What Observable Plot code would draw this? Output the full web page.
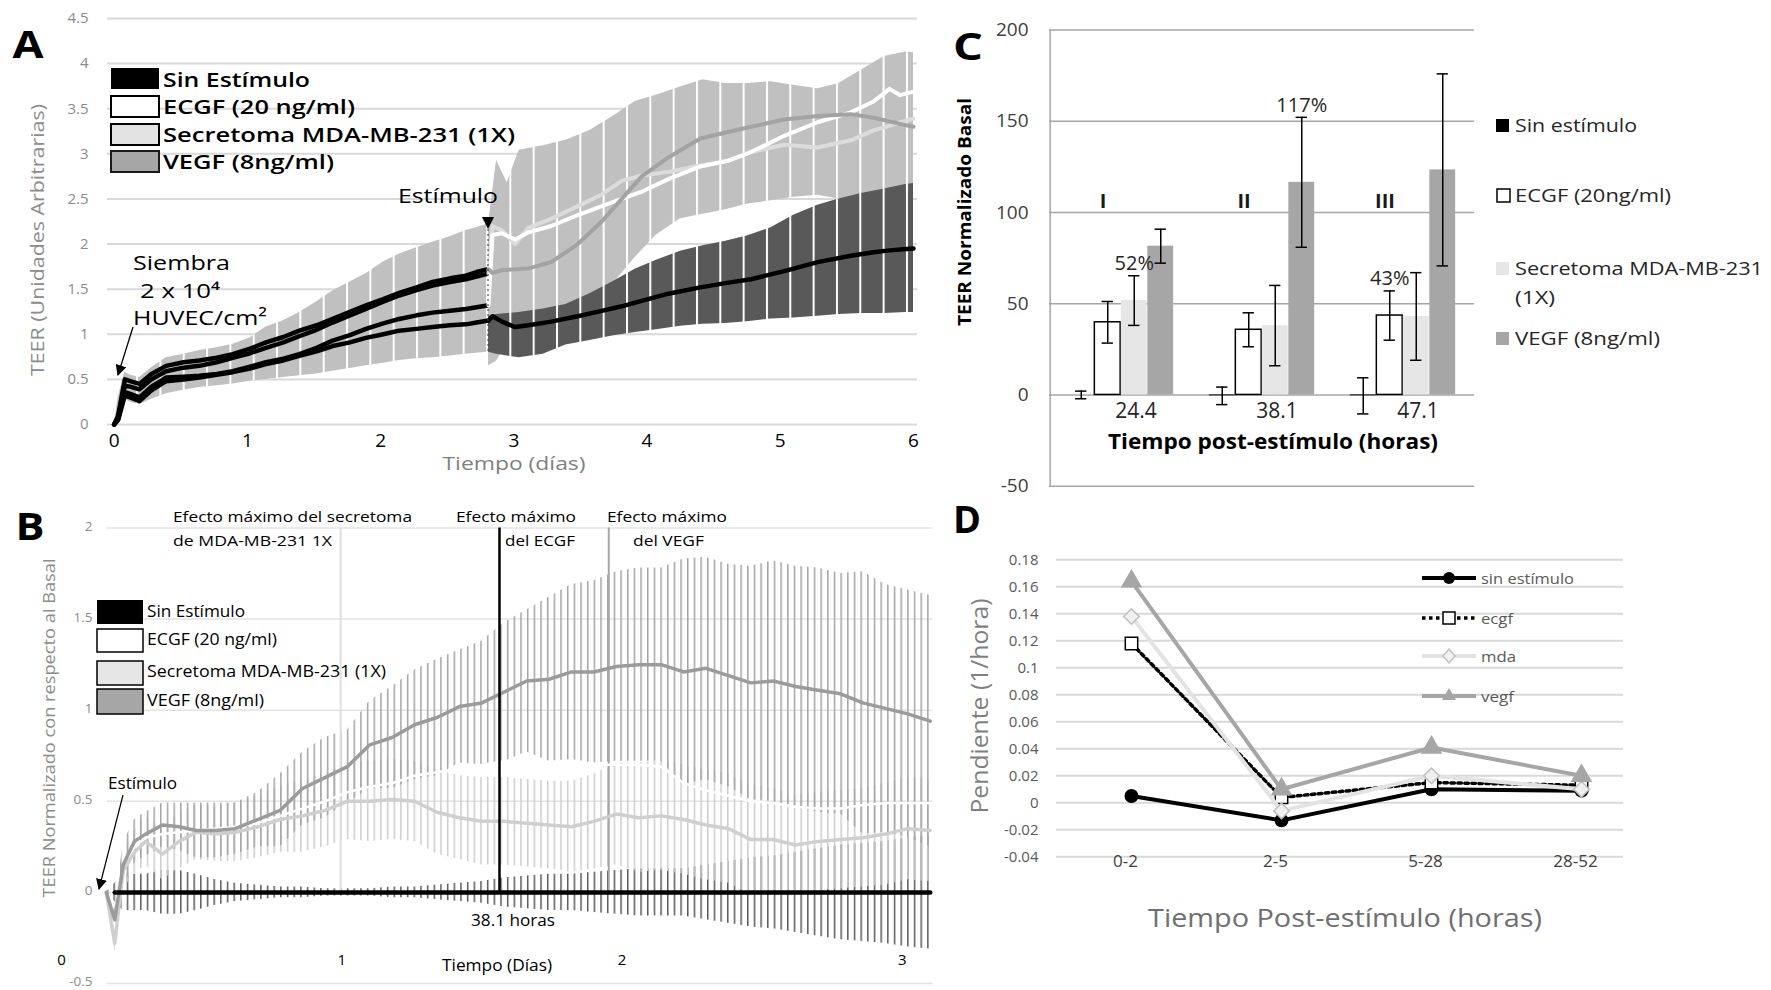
<!DOCTYPE html>
<html><head><meta charset="utf-8">
<script src="https://cdn.jsdelivr.net/npm/d3@7"></script>
<script src="https://cdn.jsdelivr.net/npm/@observablehq/plot@0.6"></script>
<style>
html,body{margin:0;padding:0;background:#fff;}
#page{position:relative;width:1771px;height:990px;overflow:hidden;background:#fff;font-family:'Open Sans',sans-serif;}
.panel{position:absolute;}
.panel svg{display:block;}
#overlay{position:absolute;left:0;top:0;pointer-events:none;}
</style></head><body><div id="page"></div>
<script>
// ================= Panel A: TEER (días) =================
const aXTicks = [0, 1, 2, 3, 4, 5, 6];
const aYTicks = [0, 0.5, 1, 1.5, 2, 2.5, 3, 3.5, 4, 4.5];
const aTPre   = [0.00, 0.03, 0.08, 0.12, 0.19, 0.28, 0.39, 0.52, 0.64, 0.77, 0.89, 1.02, 1.14, 1.27, 1.39, 1.52, 1.64, 1.77, 1.89, 2.02, 2.14, 2.27, 2.39, 2.52, 2.64, 2.72, 2.80];
const aPreHi  = [0.00, 0.30, 0.58, 0.55, 0.52, 0.63, 0.74, 0.78, 0.82, 0.85, 0.89, 0.96, 1.08, 1.15, 1.24, 1.36, 1.48, 1.58, 1.67, 1.80, 1.89, 1.96, 2.02, 2.08, 2.15, 2.18, 2.22];
const aPreLo  = [0.00, 0.05, 0.28, 0.25, 0.22, 0.28, 0.34, 0.38, 0.41, 0.43, 0.45, 0.48, 0.50, 0.52, 0.54, 0.56, 0.59, 0.62, 0.65, 0.68, 0.71, 0.73, 0.74, 0.76, 0.78, 0.79, 0.80];
const aPreVegf= [0.00, 0.10, 0.50, 0.48, 0.45, 0.56, 0.65, 0.69, 0.71, 0.74, 0.78, 0.84, 0.91, 0.97, 1.04, 1.10, 1.17, 1.25, 1.32, 1.39, 1.46, 1.52, 1.58, 1.62, 1.65, 1.69, 1.72];
const aPreMda = [0.00, 0.08, 0.43, 0.42, 0.39, 0.50, 0.59, 0.63, 0.65, 0.69, 0.74, 0.79, 0.85, 0.91, 0.98, 1.05, 1.13, 1.21, 1.28, 1.36, 1.43, 1.49, 1.54, 1.58, 1.61, 1.64, 1.67];
const aPreEcgf= [0.00, 0.06, 0.36, 0.34, 0.30, 0.42, 0.52, 0.53, 0.54, 0.56, 0.59, 0.64, 0.69, 0.73, 0.78, 0.85, 0.93, 0.99, 1.06, 1.12, 1.17, 1.21, 1.24, 1.26, 1.28, 1.30, 1.32];
const aPreSin = [0.00, 0.05, 0.32, 0.30, 0.26, 0.38, 0.48, 0.50, 0.52, 0.55, 0.58, 0.62, 0.67, 0.71, 0.76, 0.81, 0.87, 0.91, 0.96, 1.00, 1.04, 1.06, 1.08, 1.10, 1.11, 1.13, 1.15];

const aTPost   = [2.81, 2.84, 2.91, 3.01, 3.11, 3.28, 3.48, 3.66, 3.81, 3.96, 4.16, 4.40, 4.60, 4.78, 5.03, 5.28, 5.53, 5.70, 5.82, 5.90, 6.00];
const aPostSin = [1.15, 1.20, 1.14, 1.08, 1.10, 1.14, 1.20, 1.26, 1.31, 1.37, 1.45, 1.52, 1.57, 1.61, 1.70, 1.80, 1.87, 1.91, 1.93, 1.94, 1.95];
const aPostEcgf= [1.32, 2.10, 2.12, 2.05, 2.13, 2.20, 2.32, 2.42, 2.50, 2.58, 2.72, 2.86, 2.92, 3.02, 3.20, 3.35, 3.46, 3.58, 3.72, 3.65, 3.69];
const aPostMda = [1.67, 2.20, 2.15, 2.00, 2.18, 2.28, 2.42, 2.55, 2.70, 2.76, 2.80, 2.87, 2.92, 3.02, 3.10, 3.07, 3.15, 3.26, 3.31, 3.35, 3.39];
const aPostVegf= [1.72, 1.68, 1.71, 1.72, 1.73, 1.80, 2.00, 2.25, 2.50, 2.75, 2.96, 3.17, 3.24, 3.30, 3.38, 3.42, 3.44, 3.40, 3.36, 3.33, 3.30];

const aTBand   = [2.81, 2.87, 2.95, 3.04, 3.22, 3.39, 3.57, 3.74, 3.91, 4.07, 4.25, 4.42, 4.59, 4.75, 4.93, 5.10, 5.28, 5.44, 5.61, 5.78, 5.94, 6.00];
const aLightHi = [2.22, 2.93, 2.68, 3.04, 3.09, 3.15, 3.26, 3.41, 3.58, 3.65, 3.74, 3.82, 3.78, 3.78, 3.80, 3.76, 3.72, 3.78, 3.93, 4.08, 4.13, 4.12];
const aLightLo = [0.65, 0.70, 0.90, 1.00, 1.10, 1.20, 1.35, 1.55, 1.85, 2.10, 2.28, 2.33, 2.38, 2.44, 2.48, 2.52, 2.54, 2.50, 2.50, 2.55, 2.60, 2.60];
const aDarkHi  = [1.20, 1.22, 1.23, 1.24, 1.28, 1.33, 1.45, 1.58, 1.72, 1.82, 1.92, 1.98, 2.03, 2.09, 2.18, 2.32, 2.43, 2.50, 2.56, 2.61, 2.66, 2.67];
const aDarkLo  = [0.80, 0.78, 0.76, 0.74, 0.78, 0.88, 0.93, 0.98, 1.02, 1.05, 1.09, 1.11, 1.12, 1.14, 1.17, 1.18, 1.20, 1.22, 1.23, 1.23, 1.24, 1.24];

// ================= Panel B: normalizado (días) =================
const bXTicks = [0, 1, 2, 3];
const bYTicks = [-0.5, 0, 0.5, 1, 1.5, 2];
const bT      = [0.16, 0.19, 0.22, 0.26, 0.30, 0.36, 0.42, 0.48, 0.55, 0.62, 0.70, 0.78, 0.86, 0.94, 1.02, 1.10, 1.18, 1.26, 1.34, 1.42, 1.50, 1.58, 1.66, 1.74, 1.82, 1.90, 1.98, 2.06, 2.14, 2.22, 2.30, 2.38, 2.46, 2.54, 2.62, 2.70, 2.78, 2.86, 2.94, 3.02, 3.10];
const bVegf   = [0.00, -0.15, 0.15, 0.28, 0.32, 0.37, 0.36, 0.34, 0.34, 0.35, 0.40, 0.45, 0.57, 0.63, 0.69, 0.81, 0.85, 0.92, 0.96, 1.02, 1.04, 1.10, 1.16, 1.17, 1.21, 1.21, 1.24, 1.25, 1.25, 1.21, 1.23, 1.19, 1.15, 1.16, 1.13, 1.11, 1.09, 1.04, 1.01, 0.98, 0.94];
const bVegfSd = [0.00, 0.05, 0.12, 0.12, 0.12, 0.12, 0.13, 0.15, 0.15, 0.14, 0.15, 0.20, 0.20, 0.22, 0.20, 0.24, 0.28, 0.30, 0.32, 0.31, 0.34, 0.38, 0.39, 0.45, 0.48, 0.50, 0.52, 0.53, 0.53, 0.62, 0.61, 0.61, 0.64, 0.66, 0.66, 0.67, 0.66, 0.72, 0.68, 0.68, 0.69];
const bMda    = [0.00, -0.28, 0.12, 0.22, 0.28, 0.21, 0.28, 0.33, 0.32, 0.33, 0.36, 0.40, 0.42, 0.45, 0.50, 0.50, 0.51, 0.50, 0.44, 0.41, 0.39, 0.39, 0.38, 0.37, 0.36, 0.39, 0.43, 0.41, 0.42, 0.40, 0.37, 0.35, 0.29, 0.29, 0.26, 0.28, 0.29, 0.30, 0.32, 0.35, 0.34];
const bMdaSd  = [0.00, 0.05, 0.10, 0.12, 0.13, 0.14, 0.15, 0.15, 0.15, 0.16, 0.17, 0.18, 0.20, 0.20, 0.21, 0.22, 0.22, 0.22, 0.23, 0.23, 0.24, 0.24, 0.24, 0.24, 0.25, 0.26, 0.28, 0.30, 0.30, 0.30, 0.30, 0.30, 0.30, 0.28, 0.27, 0.27, 0.27, 0.27, 0.28, 0.28, 0.28];
const bEcgf   = [0.00, -0.20, 0.15, 0.25, 0.30, 0.32, 0.33, 0.34, 0.35, 0.36, 0.38, 0.42, 0.46, 0.50, 0.55, 0.58, 0.60, 0.64, 0.66, 0.68, 0.70, 0.72, 0.72, 0.70, 0.70, 0.70, 0.70, 0.70, 0.69, 0.60, 0.56, 0.53, 0.50, 0.49, 0.47, 0.46, 0.46, 0.48, 0.49, 0.49, 0.49];
const bSin    = [0, 0, 0, 0, 0, 0, 0, 0, 0, 0, 0, 0, 0, 0, 0, 0, 0, 0, 0, 0, 0, 0, 0, 0, 0, 0, 0, 0, 0, 0, 0, 0, 0, 0, 0, 0, 0, 0, 0, 0, 0];
const bSinSd  = [0.00, 0.05, 0.10, 0.10, 0.10, 0.12, 0.12, 0.10, 0.07, 0.05, 0.04, 0.03, 0.03, 0.02, 0.02, 0.02, 0.03, 0.03, 0.04, 0.05, 0.06, 0.08, 0.09, 0.10, 0.10, 0.11, 0.12, 0.13, 0.13, 0.13, 0.15, 0.17, 0.19, 0.20, 0.22, 0.24, 0.26, 0.27, 0.28, 0.30, 0.31];
const bPeaks  = [0.996, 1.563, 1.953];   // secretoma, ECGF (38.1 h), VEGF
const bGridStart = 0.164;

// ================= Panel C: barras =================
const cGroups  = ["24.4", "38.1", "47.1"];
const cRoman   = ["I", "II", "III"];
const cYTicks  = [-50, 0, 50, 100, 150, 200];
const cSin     = [0, -0.5, -0.5];
const cSinErr  = [2.1, 4.8, 9.9];
const cEcgf    = [39.8, 35.7, 43.5];
const cEcgfErr = [11.4, 9.3, 13.5];
const cMda     = [51.7, 38.0, 43.0];
const cMdaErr  = [13.6, 22.0, 24.0];
const cVegf    = [81.5, 116.5, 123.3];
const cVegfErr = [9.3, 35.6, 52.6];
const cPctGroup  = ["24.4", "38.1", "47.1"];
const cPctSeries = ["mda", "vegf", "ecgf"];
const cPctLabel  = ["52%", "117%", "43%"];

// ================= Panel D: pendientes =================
const dCats  = ["0-2", "2-5", "5-28", "28-52"];
const dYTicks = [-0.04, -0.02, 0, 0.02, 0.04, 0.06, 0.08, 0.1, 0.12, 0.14, 0.16, 0.18];
const dSin   = [0.005, -0.013, 0.010, 0.009];
const dEcgf  = [0.118, 0.004, 0.015, 0.013];
const dMda   = [0.138, -0.006, 0.020, 0.010];
const dVegf  = [0.164, 0.010, 0.041, 0.020];

// ---------------------------------------------------------
const ns = "http://www.w3.org/2000/svg";
const page = document.getElementById("page");
const FONT = "'Open Sans', 'DejaVu Sans', sans-serif";
function mount(svg, left, top, w, h, defs) {
  const div = document.createElement("div");
  div.className = "panel";
  div.style.cssText = `left:${left}px;top:${top}px;width:${w}px;height:${h}px;`;
  if (defs) {
    const d = document.createElementNS(ns, "defs");
    d.innerHTML = defs;
    svg.insertBefore(d, svg.firstChild);
  }
  div.appendChild(svg);
  page.appendChild(div);
}
const baseStyle = {background: "transparent", fontFamily: FONT, overflow: "visible"};

// ---------- A ----------
const aPreBand = aTPre.map((t, i) => ({t, lo: aPreLo[i], hi: aPreHi[i]}));
const aPreLines = [["vegf", aPreVegf], ["mda", aPreMda], ["ecgf", aPreEcgf], ["sin", aPreSin]]
  .flatMap(([s, arr]) => arr.map((v, i) => ({s, t: aTPre[i], v})));
const aPost = aTPost.map((t, i) => ({t, sin: aPostSin[i], ecgf: aPostEcgf[i], mda: aPostMda[i], vegf: aPostVegf[i]}));
const aBand = aTBand.map((t, i) => ({t, lLo: aLightLo[i], lHi: aLightHi[i], dLo: aDarkLo[i], dHi: aDarkHi[i]}));

const plotA = Plot.plot({
  width: 940, height: 480, marginLeft: 107, marginRight: 23, marginTop: 18, marginBottom: 56,
  style: baseStyle,
  x: {domain: [-0.05, 6.03]},
  y: {domain: [0, 4.5]},
  marks: [
    Plot.gridY(aYTicks, {stroke: "#d9d9d9", strokeOpacity: 1, strokeWidth: 2}),
    Plot.areaY(aPreBand, {x: "t", y1: "lo", y2: "hi", fill: "url(#aLight)"}),
    Plot.areaY(aBand, {x: "t", y1: "lLo", y2: "lHi", fill: "url(#aLight)"}),
    Plot.areaY(aBand, {x: "t", y1: "dLo", y2: "dHi", fill: "url(#aDark)"}),
    Plot.line(aPreLines, {x: "t", y: "v", z: "s", stroke: "#000", strokeWidth: 4.5}),
    Plot.line(aPost, {x: "t", y: "mda", stroke: "#dcdcdc", strokeWidth: 4}),
    Plot.line(aPost, {x: "t", y: "ecgf", stroke: "#ffffff", strokeWidth: 4}),
    Plot.line(aPost, {x: "t", y: "vegf", stroke: "#a3a3a3", strokeWidth: 4}),
    Plot.line(aPost, {x: "t", y: "sin", stroke: "#000", strokeWidth: 4.5}),
    Plot.axisY(aYTicks, {tickSize: 0, tickPadding: 19, fontSize: 15, fill: "#8c8c8c", label: null, tickFormat: d => String(d)}),
    Plot.axisX(aXTicks, {tickSize: 0, tickPadding: 9, fontSize: 19, fill: "#000", label: null, tickFormat: d => String(d)})
  ]
});
mount(plotA, 0, 0, 940, 480,
  `<pattern id="aLight" patternUnits="userSpaceOnUse" width="23.33" height="10" patternTransform="translate(486,0)">
     <rect x="0" y="0" width="23.33" height="10" fill="#c0c0c0"/><rect x="0" y="0" width="2" height="10" fill="#fff"/></pattern>
   <pattern id="aDark" patternUnits="userSpaceOnUse" width="23.33" height="10" patternTransform="translate(486,0)">
     <rect x="0" y="0" width="23.33" height="10" fill="#595959"/><rect x="0" y="0" width="2" height="10" fill="#fff"/></pattern>`);

// ---------- B ----------
const bRows = bT.map((t, i) => ({t, vegf: bVegf[i], vegfSd: bVegfSd[i], mda: bMda[i], mdaSd: bMdaSd[i], ecgf: bEcgf[i], sin: bSin[i], sinSd: bSinSd[i]}));
const plotB = Plot.plot({
  width: 940, height: 510, marginLeft: 61, marginRight: 7.5, marginTop: 47.5, marginBottom: 7,
  style: baseStyle,
  x: {domain: [0, 3.11]},
  y: {domain: [-0.5, 2], axis: null},
  marks: [
    Plot.ruleY(bYTicks, {x1: () => bGridStart, x2: () => 3.11, stroke: "#e3e3e3", strokeWidth: 1.5}),
    Plot.areaY(bRows, {x: "t", y1: d => d.sin - d.sinSd, y2: d => d.sin + d.sinSd, fill: "url(#bSinH)"}),
    Plot.areaY(bRows, {x: "t", y1: d => d.mda - d.mdaSd, y2: d => d.mda + d.mdaSd, fill: "url(#bMdaH)"}),
    Plot.areaY(bRows, {x: "t", y1: d => d.vegf - d.vegfSd, y2: d => d.vegf + d.vegfSd, fill: "url(#bVegfH)"}),
    Plot.ruleX([bPeaks[0]], {y1: () => 0, y2: () => 2, stroke: "#dedede", strokeWidth: 2}),
    Plot.ruleX([bPeaks[2]], {y1: () => 0, y2: () => 2, stroke: "#a6a6a6", strokeWidth: 2}),
    Plot.line(bRows, {x: "t", y: "ecgf", stroke: "#ffffff", strokeWidth: 2.5}),
    Plot.line(bRows, {x: "t", y: "mda", stroke: "#cfcfcf", strokeWidth: 3.5}),
    Plot.line(bRows, {x: "t", y: "vegf", stroke: "#9b9b9b", strokeWidth: 3.5}),
    Plot.line(bRows.slice(1), {x: "t", y: "sin", stroke: "#000", strokeWidth: 4.5}),
    Plot.ruleX([bPeaks[1]], {y1: () => 0, y2: () => 2, stroke: "#000", strokeWidth: 2.5}),
    Plot.text(bYTicks, {x: () => 0, y: d => d, text: d => String(d), textAnchor: "end", dx: 31, dy: -1.5, fontSize: 13.5, fill: "#8c8c8c"}),
    Plot.axisX(bXTicks, {tickSize: 0, tickPadding: 0, dy: -29, fontSize: 15, fill: "#000", label: null, tickFormat: d => String(d)})
  ]
});
mount(plotB, 0, 480, 940, 510,
  `<pattern id="bVegfH" patternUnits="userSpaceOnUse" width="6.67" height="10"><rect x="0" y="0" width="1.5" height="10" fill="#a3a3a3"/></pattern>
   <pattern id="bMdaH" patternUnits="userSpaceOnUse" width="6.67" height="10"><rect x="0" y="0" width="1.5" height="10" fill="#cccccc"/></pattern>
   <pattern id="bSinH" patternUnits="userSpaceOnUse" width="6.67" height="10"><rect x="0" y="0" width="1.5" height="10" fill="#5a5a5a"/></pattern>`);

// ---------- C ----------
const cRows = cGroups.map((g, i) => ({g, roman: cRoman[i],
  sin: cSin[i], sinE: cSinErr[i], ecgf: cEcgf[i], ecgfE: cEcgfErr[i],
  mda: cMda[i], mdaE: cMdaErr[i], vegf: cVegf[i], vegfE: cVegfErr[i]}));
const cBandW = 425 / 3, cBarW = 26.5, cPad = (cBandW - 4 * cBarW) / 2, cCap = 6;
const cInL = k => cPad + k * cBarW;
const cInR = k => cBandW - cPad - (k + 1) * cBarW;
const cCtr = k => cPad + (k + 0.5) * cBarW - cBandW / 2;
const cKeys = ["sin", "ecgf", "mda", "vegf"];
function cSeriesMarks(k, fill, stroke) {
  const key = cKeys[k];
  const capOpts = {x: "g", insetLeft: cBandW / 2 + cCtr(k) - cCap, insetRight: cBandW / 2 - cCtr(k) - cCap, stroke: "#000", strokeWidth: 1.5};
  return [
    Plot.barY(cRows, {x: "g", y: key, fill, stroke, strokeWidth: 1.5, insetLeft: cInL(k), insetRight: cInR(k)}),
    Plot.ruleX(cRows, {x: "g", y1: d => d[key] - d[key + "E"], y2: d => d[key] + d[key + "E"], dx: cCtr(k), stroke: "#000", strokeWidth: 1.5}),
    Plot.tickY(cRows, {...capOpts, y: d => d[key] + d[key + "E"]}),
    Plot.tickY(cRows, {...capOpts, y: d => d[key] - d[key + "E"]})
  ];
}
const cPctMarks = cPctLabel.map((lab, j) => {
  const k = cKeys.indexOf(cPctSeries[j]);
  const row = cRows.find(r => r.g === cPctGroup[j]);
  return Plot.text([row], {x: "g", y: d => d[cPctSeries[j]] + d[cPctSeries[j] + "E"], text: () => lab,
    dx: cCtr(k), dy: -12, fontSize: 20, fill: "#262626"});
});
const plotC = Plot.plot({
  width: 831, height: 500, marginLeft: 109, marginRight: 297, marginTop: 29.4, marginBottom: 14.3,
  style: baseStyle,
  x: {domain: cGroups, padding: 0, axis: null},
  y: {domain: [-50, 200]},
  marks: [
    Plot.gridY(cYTicks, {stroke: "#a6a6a6", strokeOpacity: 1, strokeWidth: 1.5}),
    Plot.ruleX([cGroups[0]], {dx: -cBandW / 2, stroke: "#a6a6a6", strokeWidth: 1.5}),
    ...cSeriesMarks(0, "#000", "none"),
    ...cSeriesMarks(1, "#fff", "#000"),
    ...cSeriesMarks(2, "#e6e6e6", "none"),
    ...cSeriesMarks(3, "#a6a6a6", "none"),
    Plot.text(cRows, {x: "g", y: () => 0, text: "g", dy: 16, dx: 15, fontSize: 21, fill: "#262626"}),
    Plot.text(cRows, {x: "g", y: () => 106, text: "roman", dx: -18, fontSize: 20, fontWeight: "bold", fill: "#1a1a1a"}),
    ...cPctMarks,
    Plot.axisY(cYTicks, {tickSize: 0, tickPadding: 21, fontSize: 19, fill: "#404040", label: null, tickFormat: d => String(d)})
  ]
});
mount(plotC, 940, 0, 831, 500);

// ---------- D ----------
const dRows = dCats.map((c, i) => ({c, sin: dSin[i], ecgf: dEcgf[i], mda: dMda[i], vegf: dVegf[i]}));
const plotD = Plot.plot({
  width: 831, height: 490, marginLeft: 116, marginRight: 148, marginTop: 59.3, marginBottom: 133.7,
  style: baseStyle,
  x: {type: "point", domain: dCats, range: [190, 641], padding: 0},
  y: {domain: [-0.04, 0.18]},
  marks: [
    Plot.gridY(dYTicks, {stroke: "#d9d9d9", strokeOpacity: 1, strokeWidth: 2}),
    Plot.line(dRows, {x: "c", y: "sin", stroke: "#000", strokeWidth: 4}),
    Plot.dot(dRows, {x: "c", y: "sin", symbol: "circle", r: 7, fill: "#000", stroke: "none"}),
    Plot.line(dRows, {x: "c", y: "ecgf", stroke: "#000", strokeWidth: 3.5, strokeDasharray: "3.5,3.5"}),
    Plot.dot(dRows, {x: "c", y: "ecgf", symbol: "square", r: 7, fill: "#fff", stroke: "#000", strokeWidth: 1.5}),
    Plot.line(dRows, {x: "c", y: "mda", stroke: "#e3e3e3", strokeWidth: 4}),
    Plot.dot(dRows, {x: "c", y: "mda", symbol: "diamond2", r: 7, fill: "#f0f0f0", stroke: "#bfbfbf", strokeWidth: 1.5}),
    Plot.line(dRows, {x: "c", y: "vegf", stroke: "#a6a6a6", strokeWidth: 4}),
    Plot.dot(dRows, {x: "c", y: "vegf", symbol: "triangle", r: 8, fill: "#a6a6a6", stroke: "none"}),
    Plot.axisY(dYTicks, {tickSize: 0, tickPadding: 18, fontSize: 15, fill: "#595959", label: null,
      tickFormat: d => String(+d.toFixed(2))}),
    Plot.axisX(dCats, {tickSize: 0, tickPadding: 0, dy: -2, dx: -6, fontSize: 17, fill: "#404040", label: null})
  ]
});
mount(plotD, 940, 500, 831, 490);

// ---------- overlay: titles, legends, annotations ----------
function txt(s, x, y, o = {}) {
  const a = `font-family="${o.font || FONT}" font-size="${o.size}" font-weight="${o.weight || 400}" fill="${o.color || "#000"}" text-anchor="${o.anchor || "start"}" dominant-baseline="central"` +
    (o.w ? ` textLength="${o.w}" lengthAdjust="spacingAndGlyphs"` : "");
  if (o.rot) return `<text transform="translate(${x},${y}) rotate(${o.rot})" ${a}>${s}</text>`;
  return `<text x="${x}" y="${y}" ${a}>${s}</text>`;
}
const rect = (x, y, w, h, fill, stroke, sw) => `<rect x="${x}" y="${y}" width="${w}" height="${h}" fill="${fill}" stroke="${stroke || "none"}" stroke-width="${sw || 0}"/>`;
let ov = `<defs><marker id="ah" viewBox="0 0 10 10" refX="9" refY="5" markerWidth="11" markerHeight="11" markerUnits="userSpaceOnUse" orient="auto"><path d="M0,0 L10,5 L0,10 z" fill="#000"/></marker></defs>`;
// panel letters
ov += txt("A", 28, 43, {size: 38, weight: 700, anchor: "middle", w: 31});
ov += txt("B", 30, 525, {size: 38, weight: 700, anchor: "middle", w: 29});
ov += txt("C", 968, 45, {size: 38, weight: 700, anchor: "middle", w: 30});
ov += txt("D", 967, 518, {size: 38, weight: 700, anchor: "middle", w: 28});
// A
ov += txt("TEER (Unidades Arbitrarias)", 37, 240, {size: 18, color: "#8c8c8c", anchor: "middle", rot: -90, w: 272});
ov += txt("Tiempo (días)", 514, 463, {size: 19, color: "#808080", anchor: "middle", w: 143});
ov += rect(111, 68, 48, 21, "#000");
ov += rect(111, 96, 48, 21, "#fff", "#000", 2);
ov += rect(111, 124, 48, 21, "#e3e3e3", "#000", 2);
ov += rect(111, 151, 48, 21, "#a6a6a6", "#1a1a1a", 2);
ov += txt("Sin Estímulo", 163, 79, {size: 20, weight: 600, w: 147});
ov += txt("ECGF (20 ng/ml)", 163, 106, {size: 20, weight: 600, w: 192});
ov += txt("Secretoma MDA-MB-231 (1X)", 163, 134, {size: 20, weight: 600, w: 352});
ov += txt("VEGF (8ng/ml)", 163, 161, {size: 20, weight: 600, w: 171});
ov += txt("Siembra", 133, 262, {size: 20, w: 97});
ov += txt("2 x 10⁴", 140, 290, {size: 20, w: 80});
ov += txt("HUVEC/cm²", 133, 317, {size: 20, w: 134});
ov += `<line x1="133" y1="327" x2="118" y2="375" stroke="#000" stroke-width="1.3" marker-end="url(#ah)"/>`;
ov += txt("Estímulo", 398, 195, {size: 20, w: 100});
ov += `<polygon points="482,217 494,217 488,229" fill="#000"/>`;
ov += `<line x1="488" y1="229" x2="488" y2="352" stroke="#333" stroke-width="1" stroke-dasharray="2,3"/>`;
// B
ov += txt("TEER Normalizado con respecto al Basal", 48, 728, {size: 17, color: "#8c8c8c", anchor: "middle", rot: -90, w: 339});
ov += rect(97, 600, 46, 24, "#000");
ov += rect(97, 629, 46, 23, "#fff", "#000", 1.5);
ov += rect(97, 661, 46, 24, "#e6e6e6", "#000", 1.5);
ov += rect(97, 689, 46, 25, "#a6a6a6", "#000", 1.5);
ov += txt("Sin Estímulo", 147, 611, {size: 16, w: 98});
ov += txt("ECGF (20 ng/ml)", 147, 639, {size: 16, w: 130});
ov += txt("Secretoma MDA-MB-231 (1X)", 147, 671, {size: 16, w: 239});
ov += txt("VEGF (8ng/ml)", 147, 700, {size: 16, w: 117});
ov += txt("Efecto máximo del secretoma", 173, 516, {size: 15, w: 239});
ov += txt("de MDA-MB-231 1X", 173, 540, {size: 15, w: 159});
ov += txt("Efecto máximo", 456, 516, {size: 15, w: 120});
ov += txt("del ECGF", 505, 540, {size: 15, w: 70});
ov += txt("Efecto máximo", 607, 516, {size: 15, w: 120});
ov += txt("del VEGF", 633, 540, {size: 15, w: 71});
ov += txt("Estímulo", 108, 783, {size: 16, w: 69});
ov += `<line x1="123" y1="795" x2="99" y2="889" stroke="#000" stroke-width="1.2" marker-end="url(#ah)"/>`;
ov += txt("38.1 horas", 471, 920, {size: 16, w: 84});
ov += txt("Tiempo (Días)", 442, 965, {size: 16, w: 110});
// C
ov += txt("TEER Normalizado Basal", 964, 212, {size: 18, weight: 700, anchor: "middle", rot: -90, w: 228});
ov += txt("Tiempo post-estímulo (horas)", 1273, 440, {size: 22, weight: 700, anchor: "middle", w: 330});
ov += rect(1496, 119, 13, 13, "#000");
ov += rect(1497, 189, 13, 13, "#fff", "#000", 1.5);
ov += rect(1496, 262, 13, 13, "#e6e6e6");
ov += rect(1496, 332, 13, 13, "#a6a6a6");
ov += txt("Sin estímulo", 1515, 125, {size: 19, color: "#262626", w: 122});
ov += txt("ECGF (20ng/ml)", 1515, 195, {size: 19, color: "#262626", w: 156});
ov += txt("Secretoma MDA-MB-231", 1515, 268, {size: 19, color: "#262626", w: 248});
ov += txt("(1X)", 1515, 297, {size: 19, color: "#262626", w: 40});
ov += txt("VEGF (8ng/ml)", 1515, 338, {size: 19, color: "#262626", w: 145});
// D
ov += txt("Pendiente (1/hora)", 978, 706, {size: 24, color: "#7f7f7f", anchor: "middle", rot: -90, w: 215});
ov += txt("Tiempo Post-estímulo (horas)", 1345, 917, {size: 26, color: "#6f6f6f", anchor: "middle", w: 394});
ov += `<line x1="1422" y1="578" x2="1476" y2="578" stroke="#000" stroke-width="4"/><circle cx="1449" cy="578" r="6" fill="#000"/>`;
ov += `<line x1="1422" y1="618" x2="1476" y2="618" stroke="#000" stroke-width="3.5" stroke-dasharray="3.5,3.5"/>` + rect(1443, 612, 12, 12, "#fff", "#000", 1.5);
ov += `<line x1="1422" y1="656" x2="1476" y2="656" stroke="#e3e3e3" stroke-width="4"/><polygon points="1449,649 1455,656 1449,663 1443,656" fill="#f0f0f0" stroke="#bfbfbf" stroke-width="1.3"/>`;
ov += `<line x1="1422" y1="696" x2="1476" y2="696" stroke="#a6a6a6" stroke-width="4"/><polygon points="1449,688 1456,700 1442,700" fill="#a6a6a6"/>`;
ov += txt("sin estímulo", 1481, 578, {size: 15, color: "#595959", w: 93});
ov += txt("ecgf", 1481, 618, {size: 15, color: "#595959", w: 32});
ov += txt("mda", 1481, 656, {size: 15, color: "#595959", w: 35});
ov += txt("vegf", 1481, 696, {size: 15, color: "#595959", w: 33});

const overlay = document.createElementNS(ns, "svg");
overlay.setAttribute("id", "overlay");
overlay.setAttribute("width", 1771);
overlay.setAttribute("height", 990);
overlay.innerHTML = ov;
page.appendChild(overlay);
</script>
</body></html>
